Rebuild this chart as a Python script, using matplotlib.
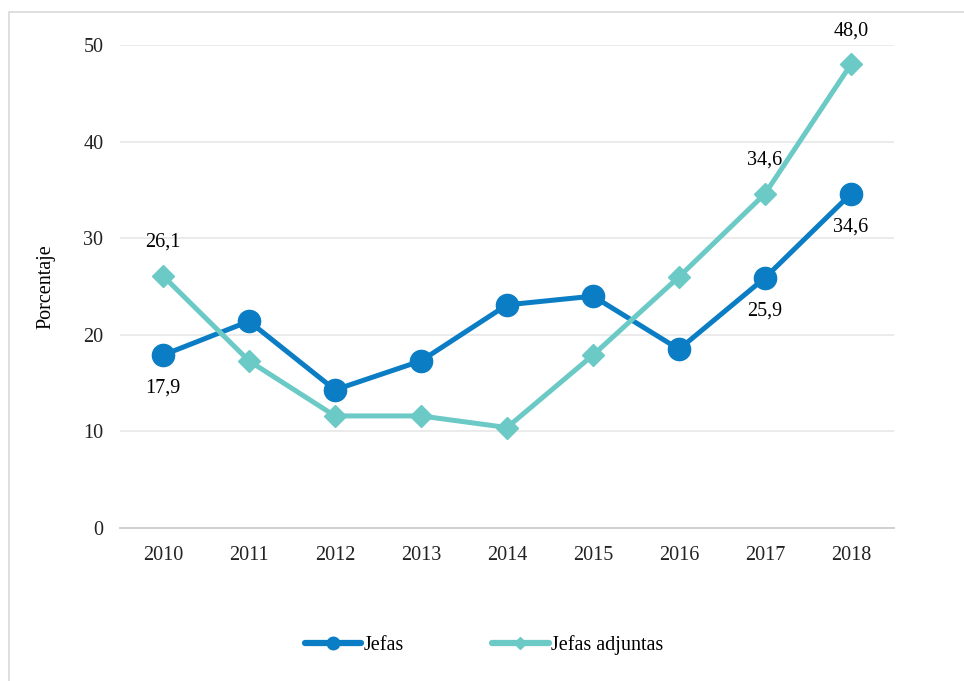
import numpy as np
import matplotlib.pyplot as plt
from matplotlib.lines import Line2D

years = ["2010", "2011", "2012", "2013", "2014", "2015", "2016", "2017", "2018"]
jefas = [17.9, 21.4, 14.3, 17.3, 23.1, 24.0, 18.5, 25.9, 34.6]
adjuntas = [26.1, 17.3, 11.6, 11.6, 10.4, 17.9, 26.0, 34.6, 48.0]

# which points carry a label, and whether it goes above (+) or below (-)
jefas_labels = {0: -1, 7: -1, 8: -1}
adjuntas_labels = {0: 1, 7: 1, 8: 1}

blue = "#0A7DC4"
teal = "#6CCAC6"

plt.rcParams["font.family"] = ["Liberation Serif", "DejaVu Serif"]

fig = plt.figure(figsize=(9.64, 6.81), dpi=100)
ax = fig.add_axes([120 / 964, 1 - 528 / 681, (894 - 120) / 964, (528 - 45) / 681])

# outer frame of the chart area
fig.patches.append(plt.Rectangle((9 / 964, -0.05), 1.0, 1 - 12 / 681 + 0.05,
                                 transform=fig.transFigure, fill=False,
                                 edgecolor="#D9D9D9", linewidth=1.2))

x = np.arange(len(years))
ax.plot(x, jefas, color=blue, linewidth=3.6, marker="o", markersize=16,
        solid_capstyle="round", zorder=3)
ax.plot(x, adjuntas, color=teal, linewidth=3.6, marker="D", markersize=11,
        solid_capstyle="round", zorder=4)

for i, d in jefas_labels.items():
    ax.annotate(f"{jefas[i]:.1f}".replace(".", ","), (x[i], jefas[i]),
                xytext=(0, 24 * d), textcoords="offset points",
                ha="center", va="center", fontsize=14.5)
for i, d in adjuntas_labels.items():
    ax.annotate(f"{adjuntas[i]:.1f}".replace(".", ","), (x[i], adjuntas[i]),
                xytext=(0, 24 * d), textcoords="offset points",
                ha="center", va="center", fontsize=14.5)

ax.set_xlim(-0.5, len(years) - 0.5)
ax.set_ylim(0, 50)
ax.set_yticks([0, 10, 20, 30, 40, 50])
ax.set_xticks(x)
ax.set_xticklabels(years)
ax.tick_params(axis="both", length=0, labelsize=14.5, colors="#222222")
ax.tick_params(axis="x", pad=13)
ax.tick_params(axis="y", pad=12)
ax.grid(axis="y", color="#E8E8E8", linewidth=1.2)
ax.set_axisbelow(True)
for s in ["top", "right", "left"]:
    ax.spines[s].set_visible(False)
ax.spines["bottom"].set_color("#D0D0D0")
ax.spines["bottom"].set_linewidth(1.4)
ax.set_ylabel("Porcentaje", fontsize=14.5, labelpad=20)

handles = [
    Line2D([], [], color=blue, linewidth=4.5, marker="o", markersize=9,
           solid_capstyle="round"),
    Line2D([], [], color=teal, linewidth=4.5, marker="D", markersize=6,
           solid_capstyle="round"),
]
fig.legend(handles, ["Jefas", "Jefas adjuntas"], loc="center",
           bbox_to_anchor=(0.502, 1 - 645 / 681), ncol=2, frameon=False,
           fontsize=14.5, handlelength=2.8, handletextpad=0.1, columnspacing=4.4)

fig.savefig("out.png", dpi=100)
